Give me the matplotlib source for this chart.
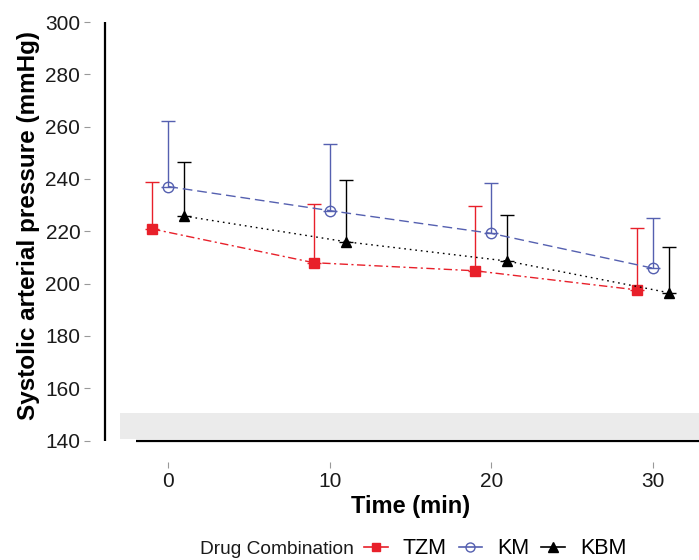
import matplotlib
matplotlib.use("Agg")
from matplotlib import pyplot as plt
from matplotlib.lines import Line2D

plt.rcParams['font.family'] = ['Liberation Sans', 'DejaVu Sans']

# data (mean and mean + SD)
time = [0, 10, 20, 30]
groups = ["TZM", "KM", "KBM"]
tzm_mean = [220.9, 208.0, 204.9, 197.6]
tzm_upper = [239.0, 230.4, 229.8, 221.4]
km_mean = [237.1, 227.9, 219.2, 205.9]
km_upper = [262.1, 253.3, 238.6, 225.0]
kbm_mean = [225.8, 216.0, 208.6, 196.5]
kbm_upper = [246.5, 239.5, 226.3, 213.9]
y_ticks = [140, 160, 180, 200, 220, 240, 260, 280, 300]

series = [
    (tzm_mean, tzm_upper, -1, "#e8202a", (0, (6, 2.5, 1.5, 2.5)), "s", "#e8202a", 6.5),
    (km_mean, km_upper, 0, "#5560b0", (0, (7, 3.5)), "o", "none", 7.5),
    (kbm_mean, kbm_upper, 1, "#000000", (0, (1.2, 2.8)), "^", "#000000", 7.5),
]

fig = plt.figure(figsize=(6.99, 5.60), dpi=100)
ax = fig.add_axes([90 / 699, 98 / 560, 609 / 699, 452 / 560])

# shaded band along the bottom of the panel
ax.fill_between([-3, 40], 140.6, 150.6, color="#ebebeb", lw=0, zorder=0)

for mean, upper, dx, col, ls, mk, mfc, ms in series:
    x = [t + dx for t in time]
    err = [u - m for m, u in zip(mean, upper)]
    ax.errorbar(x, mean, yerr=[[0] * len(mean), err], fmt="none",
                ecolor=col, elinewidth=1.0, capsize=5, capthick=1.0, zorder=2)
    ax.plot(x, mean, color=col, linestyle=ls, lw=1.0, marker=mk,
            markersize=ms, markerfacecolor=mfc, markeredgecolor=col,
            markeredgewidth=1.0, zorder=3)

# detached axis lines like the original
ax.plot([-3.92, -3.92], [140, 300], color="black", lw=1.6, zorder=4,
        solid_capstyle="butt")
ax.plot([-2.02, 40], [139.8, 139.8], color="black", lw=1.6, zorder=4,
        solid_capstyle="butt")

ax.set_xlim(-4.85, 32.86)
ax.set_ylim(131.8, 304.6)
for s in ax.spines.values():
    s.set_visible(False)

ax.set_xticks(time)
ax.set_yticks(y_ticks)
ax.tick_params(axis="both", colors="#999999", labelcolor="#1a1a1a",
               labelsize=15, length=4, width=0.8, direction="out")
ax.tick_params(axis="y", pad=3)
ax.tick_params(axis="x", pad=3)

ax.set_xlabel("Time (min)", fontsize=17, fontweight="bold")
ax.set_ylabel("Systolic arterial pressure (mmHg)", fontsize=17.5,
              fontweight="bold")
ax.xaxis.set_label_coords((411 - 90) / 609, -(495 - 462) / 452)
ax.yaxis.set_label_coords(-(90 - 40) / 609, (462 - 226) / 452)

# legend across the bottom
fig.text(200 / 699, 11 / 560, "Drug Combination", fontsize=13.8,
         va="center", ha="left", color="#1a1a1a")
handles = []
for mean, upper, dx, col, ls, mk, mfc, ms in series:
    handles.append(Line2D([], [], color=col, lw=1.2, marker=mk,
                          markersize=ms - 1, markerfacecolor=mfc,
                          markeredgecolor=col))
fig.legend(handles, groups, loc="center left",
           bbox_to_anchor=(364 / 699, 11 / 560), ncol=3, frameon=False,
           fontsize=15.5, handlelength=1.1, handletextpad=0.7,
           columnspacing=0.55, borderpad=0, borderaxespad=0)

fig.savefig("out.png", dpi=100)
